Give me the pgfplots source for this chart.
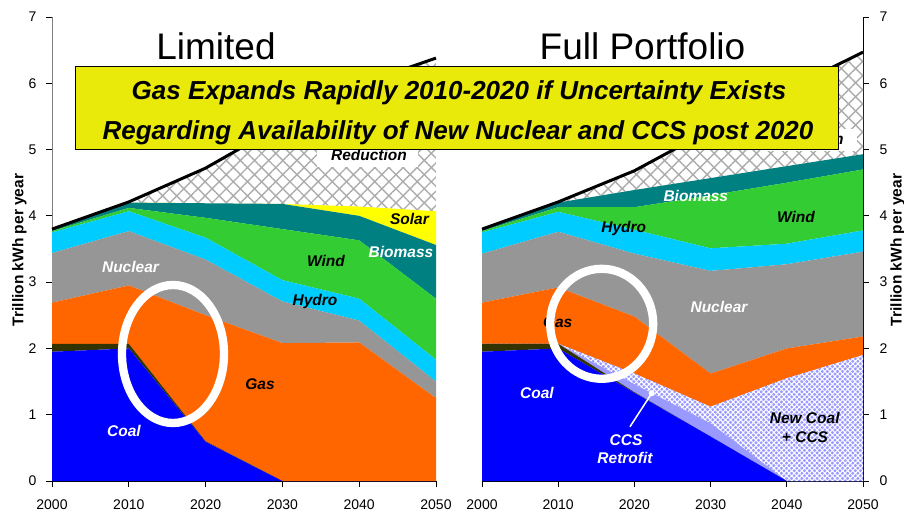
\documentclass[border=0pt]{standalone}
\usepackage{pgfplots}
\pgfplotsset{compat=1.18}
\usepackage{pgfplotstable}
\usepackage{fontspec}
\setmainfont{Liberation Sans}
\usetikzlibrary{patterns.meta}
\definecolor{coal}{HTML}{0000FF}
\definecolor{oil}{HTML}{333300}
\definecolor{gas}{HTML}{FF6600}
\definecolor{nuc}{HTML}{969696}
\definecolor{hydro}{HTML}{00CCFF}
\definecolor{wind}{HTML}{33CC33}
\definecolor{bio}{HTML}{008080}
\definecolor{solar}{HTML}{FFFF00}
\definecolor{ccs}{HTML}{9999FF}
\definecolor{banner}{HTML}{EAEA0A}
\definecolor{hatchgray}{HTML}{ADADAD}

\pgfplotstableread{
year coal oil gas nuc hydro wind bio solar red dem
2000 1.95 0.12 0.62 0.75 0.31 0.02 0.02 0.00 0.01 3.80
2010 2.00 0.07 0.88 0.82 0.30 0.05 0.08 0.00 0.01 4.21
2020 0.59 0.01 1.90 0.84 0.33 0.30 0.22 0.00 0.53 4.72
2030 0.00 0.00 2.08 0.63 0.32 0.77 0.38 0.00 1.20 5.38
2040 0.00 0.00 2.09 0.33 0.33 0.88 0.37 0.14 1.84 5.98
2050 0.00 0.00 1.25 0.25 0.33 0.92 0.81 0.51 2.31 6.38
}\limited

\pgfplotstableread{
year coal oil retro newc gas nuc hydro wind bio red dem
2000 1.95 0.12 0.00 0.00 0.62 0.74 0.32 0.02 0.02 0.01 3.80
2010 2.00 0.07 0.00 0.00 0.85 0.84 0.30 0.07 0.07 0.01 4.21
2020 1.33 0.01 0.12 0.16 0.86 0.95 0.36 0.34 0.26 0.29 4.68
2030 0.67 0.00 0.20 0.25 0.50 1.55 0.34 0.80 0.26 0.73 5.30
2040 0.00 0.00 0.00 1.55 0.45 1.27 0.31 0.92 0.25 1.15 5.90
2050 0.00 0.00 0.00 1.90 0.28 1.28 0.32 0.92 0.23 1.54 6.47
}\full

\pgfplotsset{
  panel/.style={
    scale only axis, height=464pt,
    xmin=2000, xmax=2050, ymin=0, ymax=7,
    stack plots=y,
    axis x line*=bottom,
    tick align=outside,
    major tick length=6pt,
    xtick={2000,2010,2020,2030,2040,2050},
    ytick={0,1,2,3,4,5,6,7},
    /pgf/number format/1000 sep={},
    /pgf/number format/assume math mode=true,
    tick label style={font=\fontsize{14}{16}\selectfont},
    xticklabel style={yshift=-9pt},
    tick style={black, line width=0.8pt},
  },
  overlay/.style={
    scale only axis, height=464pt,
    xmin=2000, xmax=2050, ymin=0, ymax=7,
    hide axis, clip=false,
  },
  hatchred/.style={draw=none, fill=white, postaction={pattern={Hatch[angle=45,distance=10pt,line width=1.4pt]}, pattern color=hatchgray}},
  newcoal/.style={draw=none, fill=ccs, postaction={pattern={Hatch[angle=45,distance=3.6pt,line width=1pt]}, pattern color=white}},
  ar/.style={draw=none, fill=#1},
}

\newcommand{\lab}{\bfseries\itshape\fontsize{15.5}{19}\selectfont}

\begin{document}
\begin{tikzpicture}
\useasboundingbox (0,0) rectangle (904pt,514pt);

% ---------- Limited ----------
\begin{axis}[panel, at={(52pt,33pt)}, anchor=south west, width=384pt,
  axis y line*=left,
  yticklabel style={xshift=-6pt},
  y axis line style={gray, line width=0.8pt},
  x axis line style={black, line width=0.8pt}]
\addplot[ar=coal] table[x=year,y=coal]{\limited} \closedcycle;
\addplot[ar=oil] table[x=year,y=oil]{\limited} \closedcycle;
\addplot[ar=gas] table[x=year,y=gas]{\limited} \closedcycle;
\addplot[ar=nuc] table[x=year,y=nuc]{\limited} \closedcycle;
\addplot[ar=hydro] table[x=year,y=hydro]{\limited} \closedcycle;
\addplot[ar=wind] table[x=year,y=wind]{\limited} \closedcycle;
\addplot[ar=bio] table[x=year,y=bio]{\limited} \closedcycle;
\addplot[ar=solar] table[x=year,y=solar]{\limited} \closedcycle;
\addplot[hatchred] table[x=year,y=red]{\limited} \closedcycle;
\end{axis}
\begin{axis}[overlay, at={(52pt,33pt)}, anchor=south west, width=384pt]
\addplot[black, line width=3pt, mark=none] table[x=year,y=dem]{\limited};
\end{axis}

% ---------- Full Portfolio ----------
\begin{axis}[panel, at={(482pt,33pt)}, anchor=south west, width=381pt,
  axis y line*=right,
  yticklabel style={xshift=7pt},
  y axis line style={black, line width=0.8pt},
  x axis line style={black, line width=0.8pt}]
\addplot[ar=coal] table[x=year,y=coal]{\full} \closedcycle;
\addplot[ar=oil] table[x=year,y=oil]{\full} \closedcycle;
\addplot[ar=ccs] table[x=year,y=retro]{\full} \closedcycle;
\addplot[newcoal] table[x=year,y=newc]{\full} \closedcycle;
\addplot[ar=gas] table[x=year,y=gas]{\full} \closedcycle;
\addplot[ar=nuc] table[x=year,y=nuc]{\full} \closedcycle;
\addplot[ar=hydro] table[x=year,y=hydro]{\full} \closedcycle;
\addplot[ar=wind] table[x=year,y=wind]{\full} \closedcycle;
\addplot[ar=bio] table[x=year,y=bio]{\full} \closedcycle;
\addplot[hatchred] table[x=year,y=red]{\full} \closedcycle;
\end{axis}
\begin{axis}[overlay, at={(482pt,33pt)}, anchor=south west, width=381pt]
\addplot[black, line width=3pt, mark=none] table[x=year,y=dem]{\full};
\draw[white, line width=1.5pt] (axis cs:2019.42,0.819) -- (axis cs:2022.27,1.323);
\fill[white] (axis cs:2022.27,1.323) circle[radius=3pt];
\end{axis}

% y labels
\node[rotate=90, anchor=base, font=\bfseries\fontsize{15.5}{18}\selectfont] at (23.3pt,264pt) {Trillion kWh per year};
\node[rotate=90, anchor=base, font=\bfseries\fontsize{15.5}{18}\selectfont] at (901.5pt,264pt) {Trillion kWh per year};

% titles
\node[anchor=base, font=\fontsize{37}{40}\selectfont] at (216pt,454pt) {Limited};
\node[anchor=base, font=\fontsize{37}{40}\selectfont] at (642.5pt,454pt) {Full Portfolio};

% labels left
\node[anchor=base, font=\lab, text=white] at (124pt,77.3pt) {Coal};
\node[anchor=base, font=\lab, text=white] at (130.5pt,241.5pt) {Nuclear};
\node[anchor=base, font=\lab] at (260pt,124.5pt) {Gas};
\node[anchor=base, font=\lab] at (326pt,247.5pt) {Wind};
\node[anchor=base, font=\lab] at (315pt,208pt) {Hydro};
\node[anchor=base, font=\lab, text=white] at (401pt,256pt) {Biomass};
\node[anchor=base, font=\lab] at (409.5pt,289pt) {Solar};
\fill[white] (316.7pt,347.3pt) rectangle (418.3pt,370pt);
\node[anchor=base, font=\lab] at (369pt,353.3pt) {Reduction};

% labels right
\node[anchor=base, font=\lab, text=white] at (537pt,115.7pt) {Coal};
\node[anchor=base, font=\lab] at (557.7pt,186pt) {Gas};
\node[anchor=base, font=\lab, text=white] at (719pt,201pt) {Nuclear};
\node[anchor=base, font=\lab] at (623.7pt,281pt) {Hydro};
\node[anchor=base, font=\lab, text=white] at (695.8pt,312.3pt) {Biomass};
\node[anchor=base, font=\lab] at (796pt,291.5pt) {Wind};
\node[anchor=base, font=\lab] at (804.7pt,90.7pt) {New Coal};
\node[anchor=base, font=\lab] at (805pt,71.5pt) {+ CCS};
\node[anchor=base, font=\lab, text=white] at (626pt,69pt) {CCS};
\node[anchor=base, font=\lab, text=white] at (625pt,50.7pt) {Retrofit};
\fill[white] (765pt,363pt) rectangle (857pt,385pt);
\node[anchor=base east, font=\lab] at (847pt,369pt) {Reduction};

% ellipses
\draw[white, line width=8.3pt] (173pt,160pt) ellipse[x radius=51pt, y radius=69pt];
\draw[white, line width=8.3pt] (601.7pt,190.2pt) ellipse[x radius=51.5pt, y radius=55pt];

% banner
\draw[fill=banner, line width=0.8pt] (75pt,365pt) rectangle (838pt,448pt);
\node[anchor=base, font=\bfseries\itshape\fontsize{26}{30}\selectfont] at (459pt,414pt) {Gas Expands Rapidly 2010-2020 if Uncertainty Exists};
\node[anchor=base, font=\bfseries\itshape\fontsize{26}{30}\selectfont] at (458pt,374.7pt) {Regarding Availability of New Nuclear and CCS post 2020};
\end{tikzpicture}
\end{document}
